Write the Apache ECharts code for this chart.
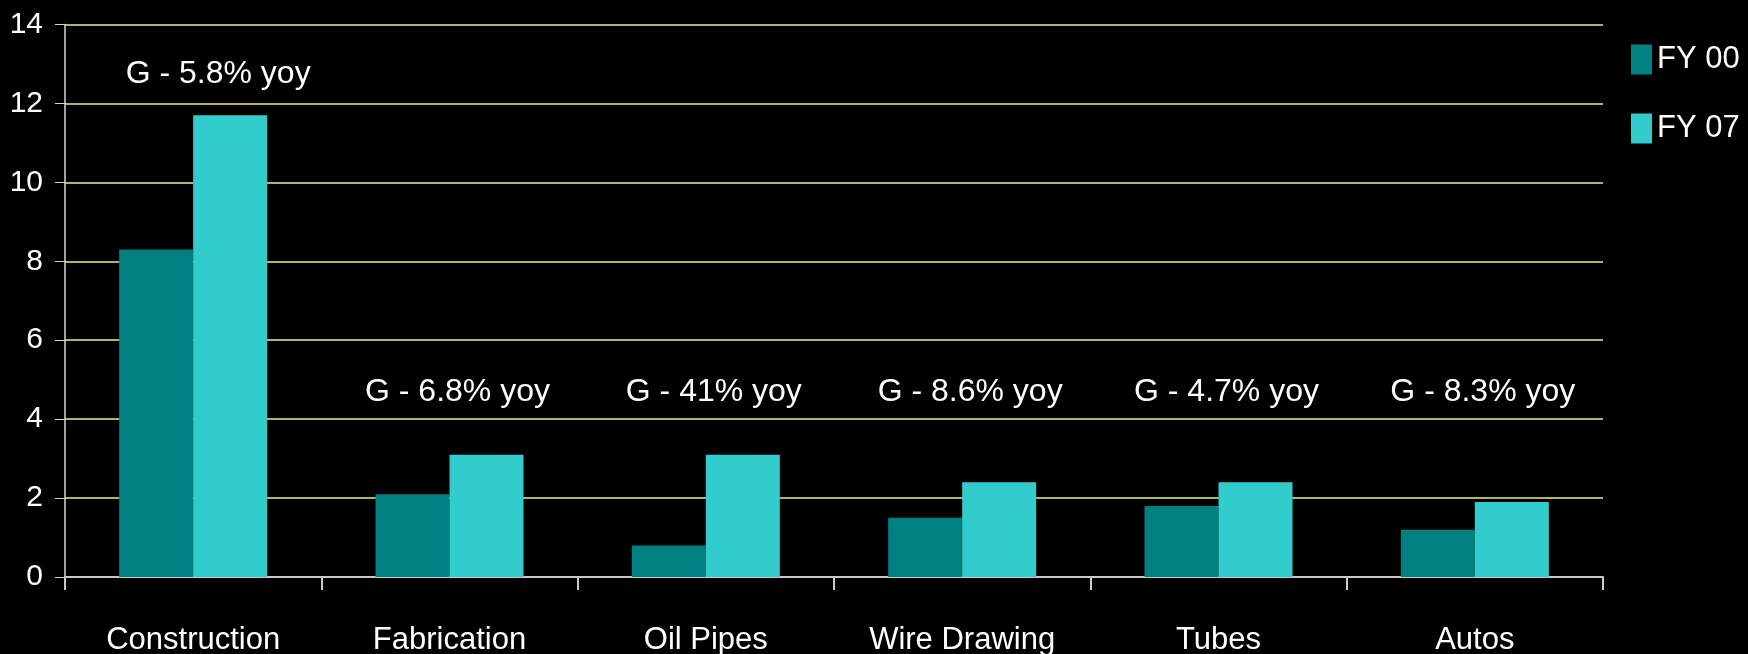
<!DOCTYPE html>
<html>
<head>
<meta charset="utf-8">
<script src="https://cdn.jsdelivr.net/npm/echarts@6/dist/echarts.min.js"></script>
<style>
  html, body { margin: 0; padding: 0; background: #000; }
  #chart { width: 1748px; height: 654px; }
</style>
</head>
<body>
<div id="chart"></div>
<script>
const categories = ["Construction", "Fabrication", "Oil Pipes", "Wire Drawing", "Tubes", "Autos"];
const fy00 = [8.3, 2.1, 0.8, 1.5, 1.8, 1.2];
const fy07 = [11.7, 3.1, 3.1, 2.4, 2.4, 1.9];
const growth = ["G - 5.8% yoy", "G - 6.8% yoy", "G - 41% yoy", "G - 8.6% yoy", "G - 4.7% yoy", "G - 8.3% yoy"];

const font = "'Liberation Sans', Arial, sans-serif";

var myChart = echarts.init(document.getElementById("chart"));
myChart.setOption({
  backgroundColor: "#000000",
  animation: false,
  textStyle: { fontFamily: font },
  grid: { left: 65, right: 145, top: 24.5, bottom: 77, outerBoundsMode: "none" },
  legend: {
    orient: "vertical",
    left: 1631,
    top: 44,
    padding: 0,
    icon: "rect",
    itemWidth: 21,
    itemHeight: 30,
    itemGap: 38,
    textStyle: { color: "#ffffff", fontSize: 31, fontFamily: font },
    data: ["FY 00", "FY 07"],
  },
  xAxis: {
    type: "category",
    data: categories,
    axisLine: { lineStyle: { color: "#c8c8c8", width: 2 } },
    axisTick: { show: true, length: 13, lineStyle: { color: "#c8c8c8", width: 2 } },
    axisLabel: { color: "#ffffff", fontSize: 31, margin: 48, fontFamily: font },
  },
  yAxis: {
    type: "value",
    min: 0,
    max: 14,
    interval: 2,
    axisLine: { show: true, lineStyle: { color: "#d8d8d8", width: 1.5 } },
    axisTick: { show: true, length: 10, lineStyle: { color: "#d8d8d8" } },
    axisLabel: { color: "#ffffff", fontSize: 30, margin: 22, fontFamily: font },
    splitLine: { lineStyle: { color: "#f2ec8c", width: 1.5 } },
  },
  series: [
    {
      name: "FY 00",
      type: "bar",
      data: fy00,
      barWidth: 74,
      barGap: "0%",
      itemStyle: { color: "#008080" },
    },
    {
      name: "FY 07",
      type: "bar",
      data: fy07,
      barWidth: 74,
      itemStyle: { color: "#33CCCC" },
    },
    {
      name: "growth",
      type: "scatter",
      symbolSize: 0,
      silent: true,
      itemStyle: { opacity: 1 },
      data: growth.map((g, i) => ({
        value: [categories[i], i === 0 ? 12.75 : 4.68],
        label: { offset: [i === 0 ? 25 : 8, 0] },
      })),
      label: {
        show: true,
        position: "inside",
        color: "#ffffff",
        fontSize: 32,
        fontFamily: font,
        formatter: (p) => growth[p.dataIndex],
      },
    },
  ],
});
</script>
</body>
</html>
